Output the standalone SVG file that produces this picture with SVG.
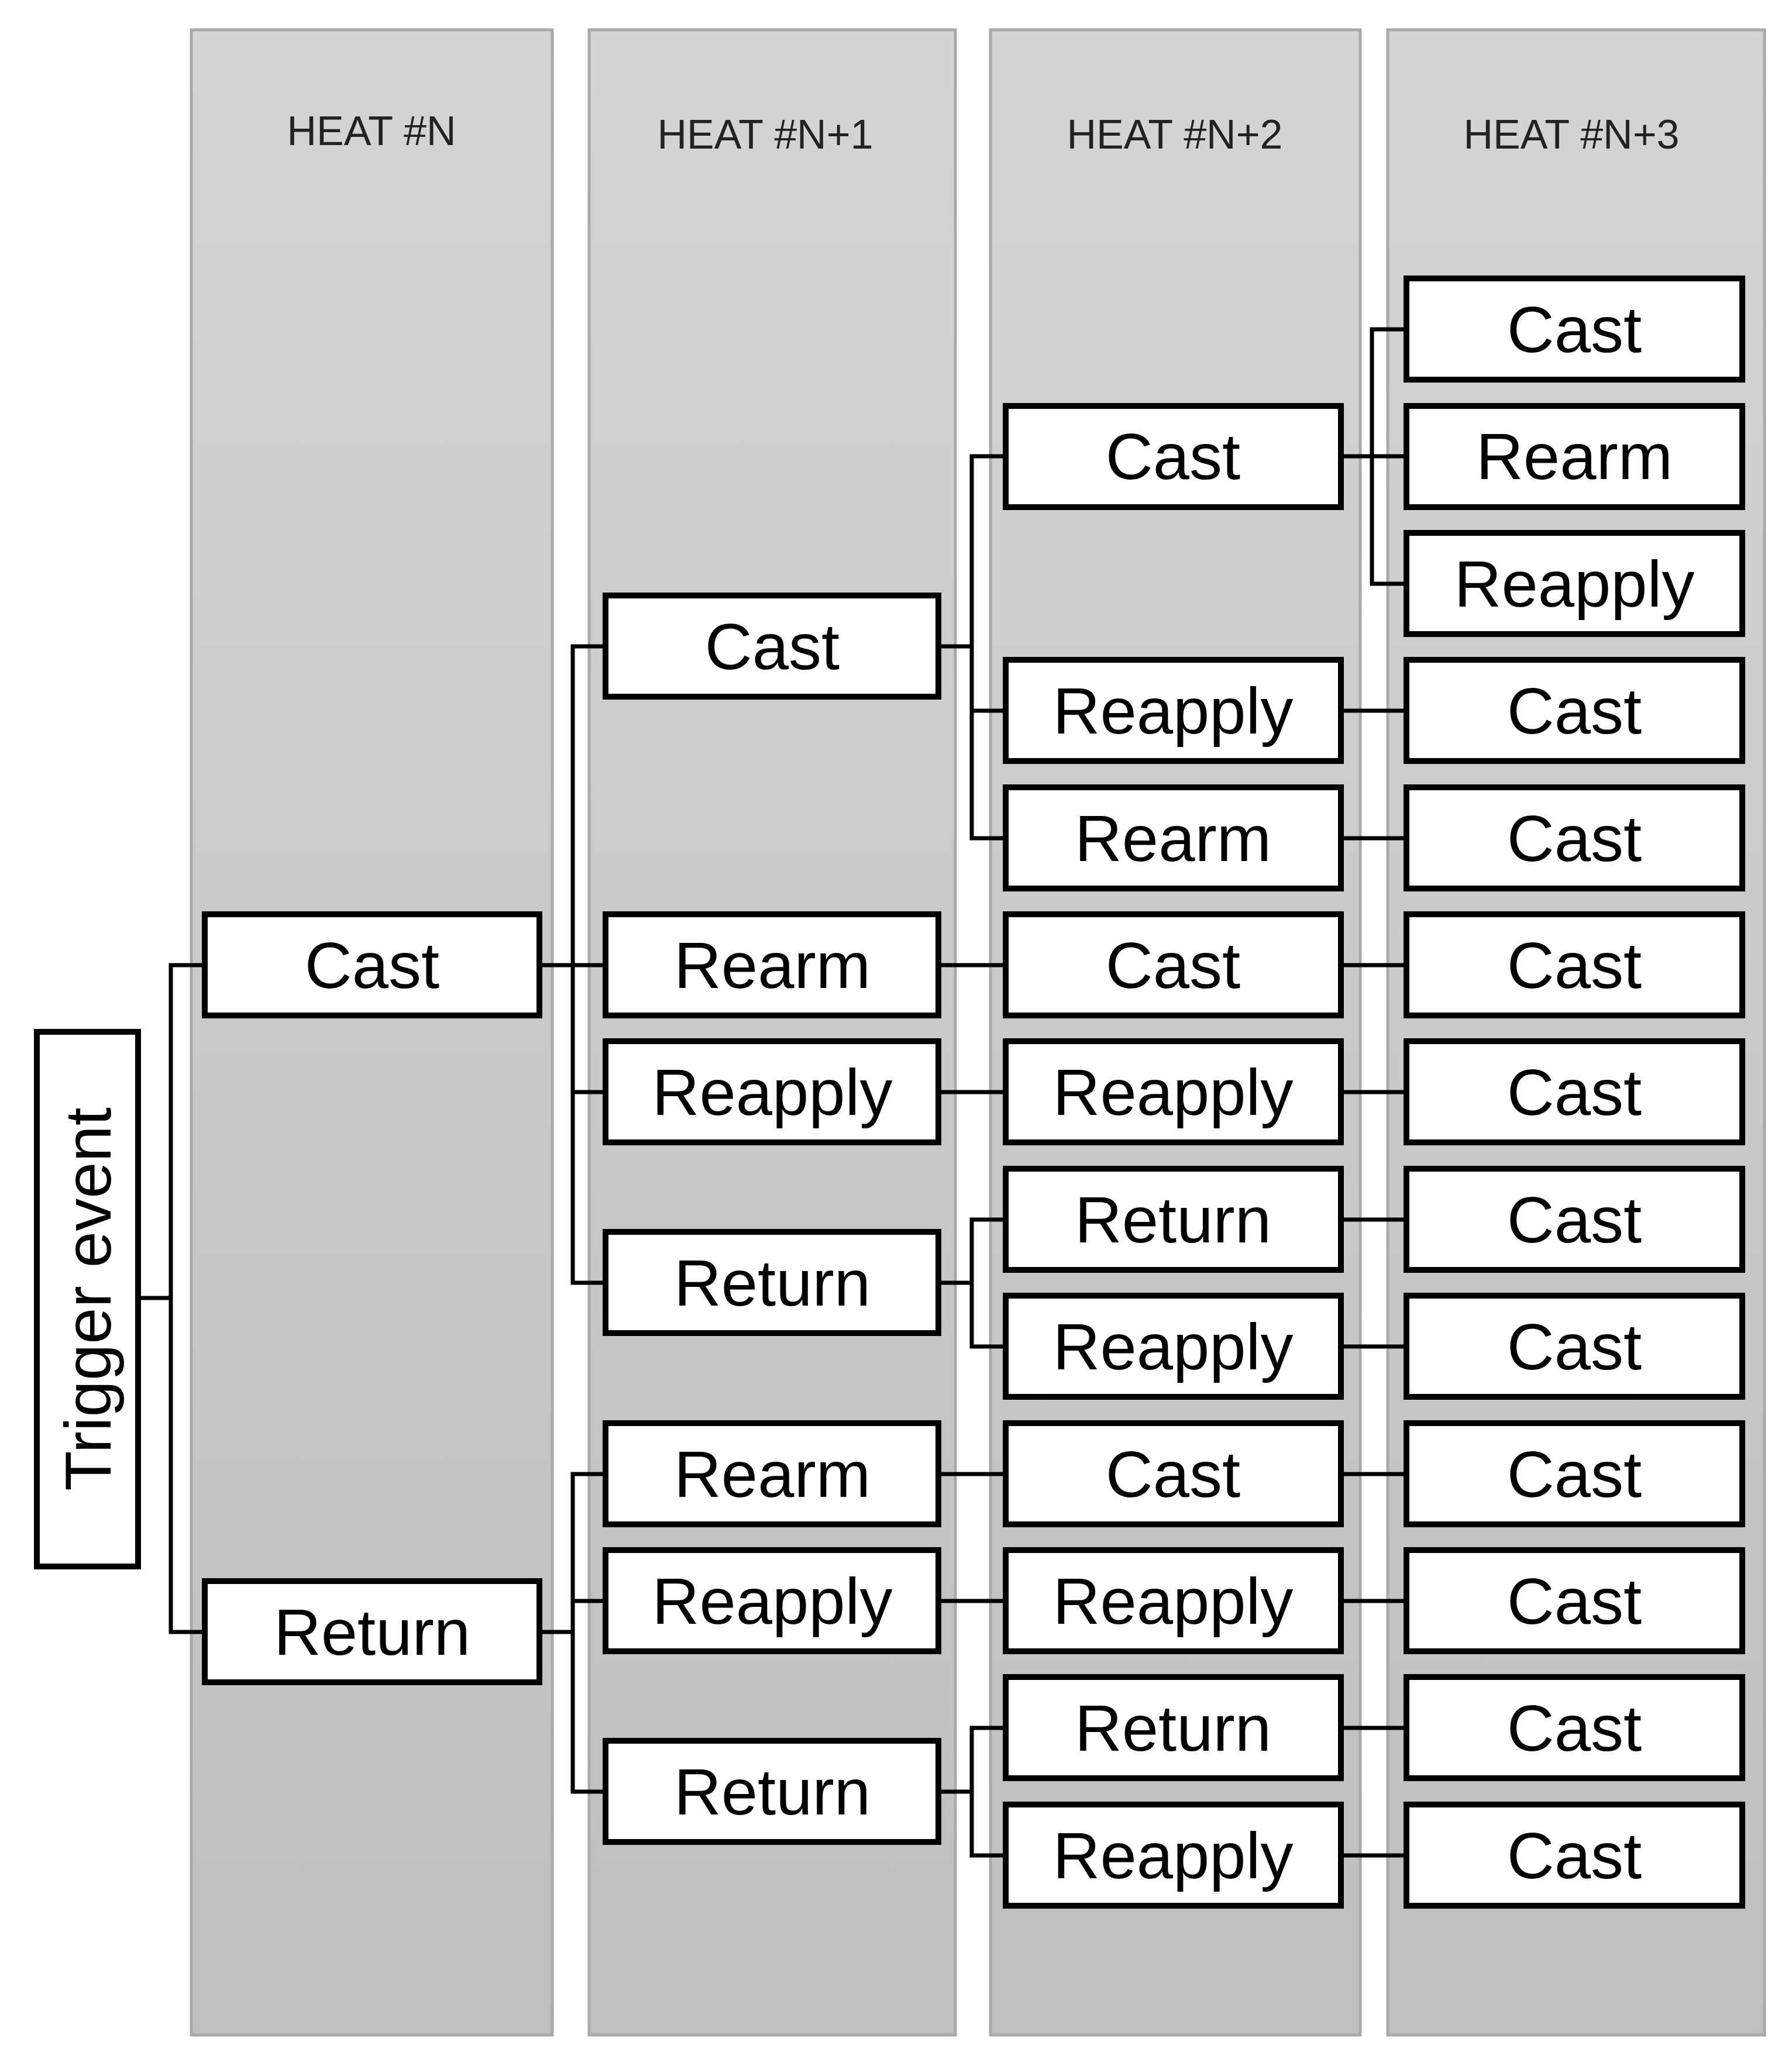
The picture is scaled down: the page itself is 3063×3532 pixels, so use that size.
<svg xmlns="http://www.w3.org/2000/svg" width="3063" height="3532" viewBox="0 0 3063 3532">
<defs>
<linearGradient id="g" x1="0" y1="0" x2="0" y2="1"><stop offset="0" stop-color="#d4d4d4"/><stop offset="1" stop-color="#bfbfbf"/></linearGradient>
<style>
.col{fill:url(#g);stroke:#a9a9a9;stroke-width:5}
.h{font-family:"Liberation Sans",sans-serif;font-size:70px;fill:#222;text-anchor:middle}
.b{fill:#fff;stroke:#000;stroke-width:10}
.t{font-family:"Liberation Sans",sans-serif;font-size:112px;fill:#000;text-anchor:middle;dominant-baseline:central}
.c{fill:none;stroke:#000;stroke-width:7}
</style>
</defs>
<rect width="3063" height="3532" fill="#fff"/>
<g id="columns">
<rect class="col" x="327" y="51" width="617" height="3428"/>
<rect class="col" x="1007" y="51" width="626" height="3428"/>
<rect class="col" x="1693" y="51" width="632" height="3428"/>
<rect class="col" x="2372" y="51" width="644" height="3428"/>
<text class="h" x="635" y="248">HEAT #N</text>
<text class="h" x="1308" y="254">HEAT #N+1</text>
<text class="h" x="2008" y="254">HEAT #N+2</text>
<text class="h" x="2686" y="254">HEAT #N+3</text>
</g>
<g id="connectors" class="c">
<path d="M236 2219H292M349 1650H292V2790H349"/>
<path d="M922 1650H979M1035 1105H979V2193H1035M979 1650H1035M979 1867H1035"/>
<path d="M922 2790H979M1035 2520H979V3063H1035M979 2737H1035"/>
<path d="M1604 1105H1661M1719 780H1661V1433H1719M1661 1215H1719"/>
<path d="M1604 1650H1719M1604 1867H1719M1604 2520H1719M1604 2737H1719"/>
<path d="M1604 2193H1661M1719 2085H1661V2302H1719"/>
<path d="M1604 3063H1661M1719 2954H1661V3172H1719"/>
<path d="M2292 780H2345M2404 563H2345V998H2404M2345 780H2404"/>
<path d="M2292 1215H2404M2292 1433H2404M2292 1650H2404M2292 1867H2404M2292 2085H2404M2292 2302H2404M2292 2520H2404M2292 2737H2404M2292 2954H2404M2292 3172H2404"/>
</g>
<g id="trigger"><rect class="b" x="63" y="1764" width="173" height="914"/><text class="t" transform="translate(150 2221) rotate(-90)">Trigger event</text></g>
<g id="n1cast"><rect class="b" x="350" y="1563" width="572" height="173"/><text class="t" x="636" y="1650">Cast</text></g>
<g id="n1return"><rect class="b" x="350" y="2703" width="572" height="173"/><text class="t" x="636" y="2790">Return</text></g>
<g id="n2cast"><rect class="b" x="1035" y="1018" width="569" height="173"/><text class="t" x="1320" y="1105">Cast</text></g>
<g id="n2rearm1"><rect class="b" x="1035" y="1563" width="569" height="173"/><text class="t" x="1320" y="1650">Rearm</text></g>
<g id="n2reapply1"><rect class="b" x="1035" y="1780" width="569" height="173"/><text class="t" x="1320" y="1867">Reapply</text></g>
<g id="n2return1"><rect class="b" x="1035" y="2106" width="569" height="173"/><text class="t" x="1320" y="2193">Return</text></g>
<g id="n2rearm2"><rect class="b" x="1035" y="2433" width="569" height="173"/><text class="t" x="1320" y="2520">Rearm</text></g>
<g id="n2reapply2"><rect class="b" x="1035" y="2650" width="569" height="173"/><text class="t" x="1320" y="2737">Reapply</text></g>
<g id="n2return2"><rect class="b" x="1035" y="2976" width="569" height="173"/><text class="t" x="1320" y="3063">Return</text></g>
<g id="n3r1"><rect class="b" x="1719" y="694" width="573" height="173"/><text class="t" x="2005" y="780">Cast</text></g>
<g id="n3r3"><rect class="b" x="1719" y="1128" width="573" height="173"/><text class="t" x="2005" y="1215">Reapply</text></g>
<g id="n3r4"><rect class="b" x="1719" y="1346" width="573" height="173"/><text class="t" x="2005" y="1433">Rearm</text></g>
<g id="n3r5"><rect class="b" x="1719" y="1563" width="573" height="173"/><text class="t" x="2005" y="1650">Cast</text></g>
<g id="n3r6"><rect class="b" x="1719" y="1780" width="573" height="173"/><text class="t" x="2005" y="1867">Reapply</text></g>
<g id="n3r7"><rect class="b" x="1719" y="1998" width="573" height="173"/><text class="t" x="2005" y="2085">Return</text></g>
<g id="n3r8"><rect class="b" x="1719" y="2215" width="573" height="173"/><text class="t" x="2005" y="2302">Reapply</text></g>
<g id="n3r9"><rect class="b" x="1719" y="2433" width="573" height="173"/><text class="t" x="2005" y="2520">Cast</text></g>
<g id="n3r10"><rect class="b" x="1719" y="2650" width="573" height="173"/><text class="t" x="2005" y="2737">Reapply</text></g>
<g id="n3r11"><rect class="b" x="1719" y="2867" width="573" height="173"/><text class="t" x="2005" y="2954">Return</text></g>
<g id="n3r12"><rect class="b" x="1719" y="3085" width="573" height="173"/><text class="t" x="2005" y="3172">Reapply</text></g>
<g id="n4r0"><rect class="b" x="2404" y="476" width="574" height="173"/><text class="t" x="2691" y="563">Cast</text></g>
<g id="n4r1"><rect class="b" x="2404" y="694" width="574" height="173"/><text class="t" x="2691" y="780">Rearm</text></g>
<g id="n4r2"><rect class="b" x="2404" y="911" width="574" height="173"/><text class="t" x="2691" y="998">Reapply</text></g>
<g id="n4r3"><rect class="b" x="2404" y="1128" width="574" height="173"/><text class="t" x="2691" y="1215">Cast</text></g>
<g id="n4r4"><rect class="b" x="2404" y="1346" width="574" height="173"/><text class="t" x="2691" y="1433">Cast</text></g>
<g id="n4r5"><rect class="b" x="2404" y="1563" width="574" height="173"/><text class="t" x="2691" y="1650">Cast</text></g>
<g id="n4r6"><rect class="b" x="2404" y="1780" width="574" height="173"/><text class="t" x="2691" y="1867">Cast</text></g>
<g id="n4r7"><rect class="b" x="2404" y="1998" width="574" height="173"/><text class="t" x="2691" y="2085">Cast</text></g>
<g id="n4r8"><rect class="b" x="2404" y="2215" width="574" height="173"/><text class="t" x="2691" y="2302">Cast</text></g>
<g id="n4r9"><rect class="b" x="2404" y="2433" width="574" height="173"/><text class="t" x="2691" y="2520">Cast</text></g>
<g id="n4r10"><rect class="b" x="2404" y="2650" width="574" height="173"/><text class="t" x="2691" y="2737">Cast</text></g>
<g id="n4r11"><rect class="b" x="2404" y="2867" width="574" height="173"/><text class="t" x="2691" y="2954">Cast</text></g>
<g id="n4r12"><rect class="b" x="2404" y="3085" width="574" height="173"/><text class="t" x="2691" y="3172">Cast</text></g>
</svg>
